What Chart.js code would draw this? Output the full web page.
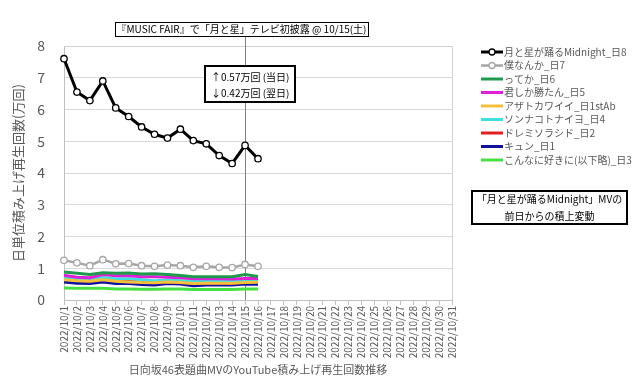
<!DOCTYPE html>
<html><head><meta charset="utf-8">
<script src="https://cdn.jsdelivr.net/npm/chart.js@4/dist/chart.umd.min.js"></script>
<style>html,body{margin:0;padding:0;background:#fff;}#wrap{width:640px;height:382px;position:relative;}</style>
</head><body><div id="wrap"><canvas id="c" width="640" height="382"></canvas></div>
<script>
const dates = ['2022/10/1','2022/10/2','2022/10/3','2022/10/4','2022/10/5','2022/10/6','2022/10/7','2022/10/8','2022/10/9','2022/10/10','2022/10/11','2022/10/12','2022/10/13','2022/10/14','2022/10/15','2022/10/16','2022/10/17','2022/10/18','2022/10/19','2022/10/20','2022/10/21','2022/10/22','2022/10/23','2022/10/24','2022/10/25','2022/10/26','2022/10/27','2022/10/28','2022/10/29','2022/10/30','2022/10/31'];
const seriesNames = ['月と星が踊るMidnight_日8','僕なんか_日7','ってか_日6','君しか勝たん_日5','アザトカワイイ_日1stAb','ソンナコトナイヨ_日4','ドレミソラシド_日2','キュン_日1','こんなに好きに(以下略)_日3'];
const tsukiToHoshi = [7.60,6.55,6.28,6.90,6.05,5.78,5.45,5.22,5.10,5.38,5.02,4.92,4.55,4.30,4.87,4.45];
const bokuNanka   = [1.25,1.17,1.08,1.27,1.14,1.15,1.08,1.06,1.10,1.08,1.03,1.06,1.03,1.02,1.12,1.06];
const tteka       = [0.88,0.84,0.80,0.86,0.84,0.85,0.82,0.83,0.80,0.77,0.73,0.73,0.73,0.73,0.80,0.74];
const kimishika   = [0.78,0.72,0.70,0.80,0.76,0.76,0.73,0.73,0.72,0.70,0.67,0.67,0.67,0.66,0.68,0.68];
const azato       = [0.64,0.61,0.59,0.64,0.59,0.57,0.55,0.54,0.57,0.55,0.52,0.53,0.53,0.53,0.55,0.56];
const sonnakoto   = [0.71,0.67,0.65,0.71,0.67,0.67,0.64,0.61,0.63,0.61,0.59,0.59,0.59,0.59,0.61,0.61];
const doremi      = [0.66,0.62,0.60,0.66,0.62,0.60,0.57,0.56,0.58,0.55,0.52,0.53,0.53,0.53,0.57,0.58];
const kyun        = [0.57,0.53,0.52,0.57,0.52,0.52,0.49,0.47,0.52,0.50,0.45,0.47,0.47,0.47,0.50,0.50];
const konnani     = [0.38,0.37,0.37,0.37,0.35,0.35,0.34,0.34,0.35,0.35,0.33,0.33,0.33,0.33,0.35,0.35];
const eventDate = '2022/10/15';
const titleText = '『MUSIC FAIR』で「月と星」テレビ初披露 @ 10/15(土)';
const noteLines = ['↑0.57万回 (当日)','↓0.42万回 (翌日)'];
const boxLines = ['「月と星が踊るMidnight」MVの','前日からの積上変動'];
const yTitle = '日単位積み上げ再生回数(万回)';
const xTitle = '日向坂46表題曲MVのYouTube積み上げ再生回数推移';

const colors = ['#000000','#a6a6a6','#1f9a4c','#e020d8','#f2c03a','#3fe0e0','#e02020','#12129a','#46e040'];
const widths = [3,2.5,3,3,3,3,3,3,3];
const allData = [tsukiToHoshi,bokuNanka,tteka,kimishika,azato,sonnakoto,doremi,kyun,konnani];
const FONT = '"Noto Sans CJK JP", "Noto Sans", sans-serif';

const datasets = allData.map((d,i)=>({
  label: seriesNames[i], data: d, borderColor: colors[i], backgroundColor: '#ffffff',
  borderWidth: widths[i], tension: 0,
  pointRadius: i<2 ? 3.2 : 0, pointBorderWidth: i<2 ? 1.3 : 0, pointBorderColor: colors[i], pointBackgroundColor:'#fff',
  order: i
}));

const overlay = {
  id:'overlay',
  beforeDatasetsDraw(chart){
    const ctx=chart.ctx, ca=chart.chartArea, x=Math.round(chart.scales.x.getPixelForValue(dates.indexOf(eventDate)))+0.5;
    ctx.save();
    ctx.strokeStyle='#d0d0d0'; ctx.lineWidth=1;
    ctx.beginPath(); ctx.moveTo(ca.left, ca.top+0.5); ctx.lineTo(ca.right+0.5, ca.top+0.5); ctx.lineTo(ca.right+0.5, ca.bottom); ctx.stroke();
    ctx.strokeStyle='#808080'; ctx.lineWidth=1;
    ctx.beginPath(); ctx.moveTo(x, 36); ctx.lineTo(x, ca.bottom); ctx.stroke();
    ctx.restore();
  },
  afterDraw(chart){
    const ctx=chart.ctx;
    ctx.save();
    ctx.textBaseline='middle';
    ctx.font='10px '+FONT;
    ctx.fillStyle='#fff'; ctx.fillRect(115, 22, 253, 14);
    ctx.strokeStyle='#000'; ctx.lineWidth=1; ctx.strokeRect(115.5, 22.5, 253, 14);
    ctx.fillStyle='#000'; ctx.textAlign='center'; ctx.fillText(titleText, 241.5, 29.5);
    ctx.fillStyle='#fff'; ctx.fillRect(205, 66, 90, 36);
    ctx.strokeStyle='#000'; ctx.lineWidth=2; ctx.strokeRect(205, 66, 90, 36);
    ctx.fillStyle='#000'; ctx.textAlign='left';
    ctx.fillText(noteLines[0], 211, 77); ctx.fillText(noteLines[1], 211, 93);
    ctx.fillStyle='#fff'; ctx.fillRect(472, 191, 155, 33);
    ctx.strokeStyle='#000'; ctx.lineWidth=2; ctx.strokeRect(472, 191, 155, 33);
    ctx.fillStyle='#000'; ctx.textAlign='center';
    ctx.fillText(boxLines[0], 549.5, 199.5); ctx.fillText(boxLines[1], 549.5, 216);
    ctx.textAlign='left'; ctx.font='10px '+FONT;
    chart.data.datasets.forEach((ds,i)=>{
      const y=52+i*13.5;
      ctx.strokeStyle=ds.borderColor; ctx.lineWidth=ds.borderWidth;
      ctx.beginPath(); ctx.moveTo(481,y); ctx.lineTo(503,y); ctx.stroke();
      if(ds.pointRadius>0){
        ctx.fillStyle='#fff'; ctx.lineWidth=1.3; ctx.beginPath(); ctx.arc(492,y,3,0,Math.PI*2); ctx.fill(); ctx.stroke();
      }
      ctx.fillStyle='#595959'; ctx.fillText(ds.label, 504, y);
    });
    ctx.restore();
  }
};

new Chart(document.getElementById('c'), {
  type:'line',
  data:{labels:dates, datasets},
  options:{
    responsive:false, animation:false, spanGaps:false,
    layout:{padding:{top:46,right:188,left:0,bottom:0}},
    plugins:{legend:{display:false}, tooltip:{enabled:false}},
    scales:{
      x:{
        offset:false,
        afterFit(s){ s.height=82; },
        grid:{drawOnChartArea:false, drawTicks:true, tickLength:5, color:'#bfbfbf'},
        border:{color:'#bfbfbf'},
        ticks:{autoSkip:false, maxRotation:90, minRotation:90, padding:1, color:'#595959', font:{size:10, family:FONT}},
        title:{display:true, text:xTitle, color:'#595959', font:{size:11, family:FONT}, padding:{top:0,bottom:6}}
      },
      y:{
        min:0, max:8,
        afterFit(s){ s.width=64; },
        grid:{color:(c)=> (c.tick && Number.isInteger(c.tick.value)) ? '#d9d9d9' : '#f0f0f0', drawTicks:false},
        border:{color:'#bfbfbf'},
        ticks:{stepSize:0.5, padding:19, color:'#595959', font:{size:14, family:FONT}, callback:(v)=> Number.isInteger(v) ? v : ''},
        title:{display:true, text:yTitle, color:'#595959', font:{size:13, family:FONT}, padding:{top:10,bottom:0}}
      }
    }
  },
  plugins:[overlay]
});
</script></body></html>
